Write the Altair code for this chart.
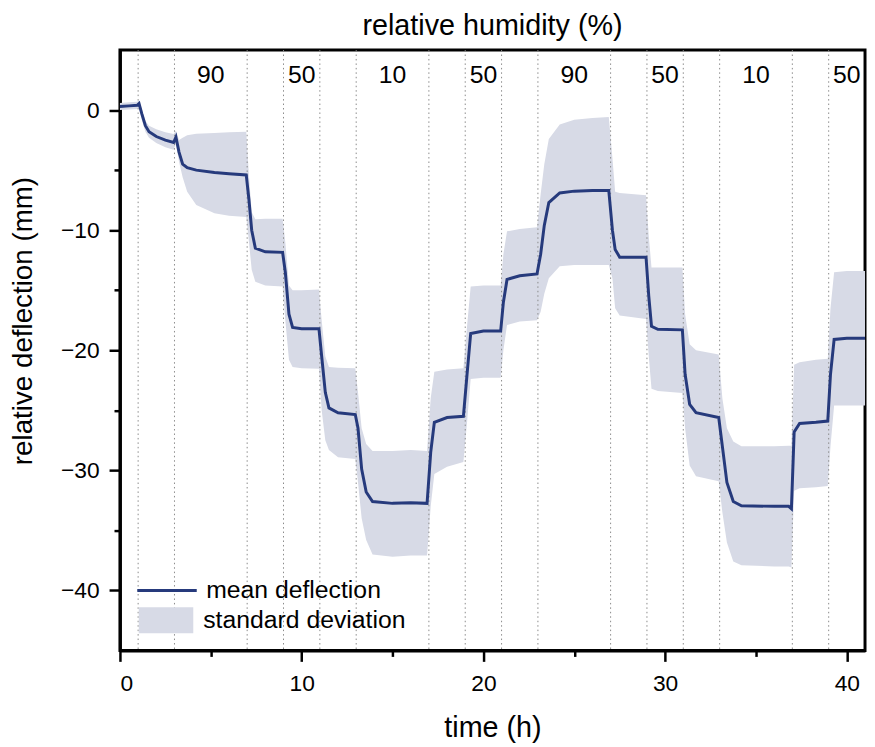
import altair as alt
import pandas as pd

# readings: time (h), mean deflection and the std band edges (mm)
time_h = [0.0, 0.5, 0.95, 1.05, 1.2, 1.4, 1.6, 2.0, 2.5, 2.95, 3.08, 3.25, 3.45, 3.7, 4.2, 5.2, 6.0, 6.95,
          7.1, 7.25, 7.45, 8.0, 8.95, 9.1, 9.3, 9.5, 10.0, 10.95, 11.1, 11.3, 11.5, 12.0, 12.95,
          13.1, 13.3, 13.55, 13.9, 15.0, 16.0, 16.9, 17.1, 17.3, 18.0, 18.9, 19.1, 19.3, 20.0, 20.95,
          21.1, 21.3, 22.0, 22.95, 23.15, 23.35, 23.6, 24.2, 25.0, 26.0, 26.9, 27.1, 27.25, 27.5, 28.95,
          29.1, 29.25, 29.6, 30.95, 31.1, 31.35, 31.7, 32.95, 33.15, 33.4, 33.75, 34.2, 36.0, 36.8, 36.95,
          37.1, 37.4, 38.3, 38.95, 39.1, 39.3, 40.0, 41.0]
mean_mm = [0.3, 0.35, 0.4, 0.55, -0.3, -1.3, -1.8, -2.2, -2.5, -2.7, -2.25, -3.5, -4.5, -4.8, -5.0, -5.2, -5.3, -5.4,
           -7.5, -10.0, -11.5, -11.8, -11.85, -13.5, -17.0, -18.1, -18.2, -18.2, -20.5, -23.5, -24.8, -25.2, -25.35,
           -26.5, -29.9, -31.8, -32.6, -32.75, -32.7, -32.75, -28.5, -26.0, -25.6, -25.5, -22.0, -18.6, -18.4, -18.4,
           -16.0, -14.1, -13.8, -13.65, -12.0, -9.6, -7.7, -6.9, -6.75, -6.7, -6.7, -10.0, -11.6, -12.25, -12.25,
           -15.5, -18.0, -18.25, -18.3, -22.0, -24.5, -25.2, -25.6, -28.0, -31.0, -32.6, -32.95, -33.0, -33.0, -33.2,
           -26.8, -26.1, -26.0, -25.9, -22.0, -19.1, -19.0, -19.0]
lower_mm = [0.0, 0.05, 0.1, 0.25, -0.8, -1.8, -2.3, -2.75, -3.1, -3.3, -2.8, -4.3, -5.6, -6.8, -7.9, -8.6, -8.8, -8.9,
            -11.0, -13.3, -14.3, -14.6, -14.7, -17.5, -20.8, -21.4, -21.5, -21.55, -25.0, -27.5, -28.3, -28.9, -29.05,
            -31.0, -34.0, -35.8, -37.0, -37.2, -37.1, -37.1, -33.0, -30.3, -29.7, -29.3, -26.0, -22.4, -22.3, -22.3,
            -20.0, -17.9, -17.6, -17.5, -16.8, -15.3, -14.0, -13.0, -12.9, -12.9, -12.9, -14.0, -16.5, -17.1, -17.4,
            -20.5, -23.2, -23.4, -23.55, -26.5, -29.6, -30.5, -30.9, -33.5, -36.0, -37.6, -37.9, -38.0, -38.0, -38.1,
            -31.7, -31.5, -31.4, -31.3, -28.0, -24.6, -24.6, -24.6]
upper_mm = [0.6, 0.65, 0.7, 0.8, 0.1, -0.9, -1.3, -1.6, -1.85, -2.0, -1.7, -2.5, -2.3, -2.1, -1.97, -1.9, -1.85, -1.8,
            -5.5, -8.5, -9.1, -9.05, -9.05, -11.0, -14.6, -15.0, -15.0, -14.95, -17.5, -20.5, -21.4, -21.45, -21.5,
            -23.5, -26.5, -27.8, -28.4, -28.4, -28.3, -28.4, -24.0, -21.8, -21.6, -21.5, -18.0, -14.7, -14.6, -14.6,
            -12.0, -10.1, -9.9, -9.75, -7.0, -4.5, -2.4, -1.2, -0.8, -0.65, -0.58, -4.0, -6.8, -6.9, -7.1,
            -10.5, -13.1, -13.1, -13.1, -17.0, -19.5, -20.0, -20.35, -24.0, -26.5, -27.6, -28.0, -28.0, -27.95, -27.95,
            -21.2, -21.0, -20.8, -20.7, -16.5, -13.5, -13.4, -13.4]

switch_times = [1, 3, 7, 9, 11, 13, 17, 19, 21, 23, 27, 29, 31, 33, 37, 39]
rh_centres = [5, 10, 15, 20, 25, 30, 35, 40]
rh_labels = ['90', '50', '10', '50', '90', '50', '10', '50']
top_title = ['relative humidity (%)']

x_major = [0, 10, 20, 30, 40]
x_minor = [5, 15, 25, 35]
y_major = [0, -10, -20, -30, -40]
y_minor = [-5, -15, -25, -35]

FONT = 'Liberation Sans'
NAVY = '#263a7c'
BAND = '#d7dae6'

df = pd.DataFrame({'t': time_h, 'mean': mean_mm, 'lo': lower_mm, 'hi': upper_mm})
df['line'] = 'mean deflection'
df['band'] = 'standard deviation'
switches = pd.DataFrame({'t': switch_times})
rh = pd.DataFrame({'t': rh_centres, 'rh': rh_labels})

xscale = alt.Scale(domain=[0, 41], nice=False, zero=False)
yscale = alt.Scale(domain=[-45, 5], nice=False, zero=False)

x_axis = alt.Axis(orient='bottom', values=x_major, tickSize=11, labelPadding=11,
                  titleX=376, titleY=87, titleBaseline='alphabetic')
y_axis = alt.Axis(orient='left', values=y_major, tickSize=11, labelPadding=10,
                  titleX=-89, titleY=273, titleBaseline='alphabetic', titleAngle=-90, titleFontSize=28)
x_minor_axis = alt.Axis(orient='bottom', values=x_minor, tickSize=6, labels=False, domain=False, title=None)
y_minor_axis = alt.Axis(orient='left', values=y_minor, tickSize=6, labels=False, domain=False, title=None)

band = alt.Chart(df).mark_area(opacity=1).encode(
    x=alt.X('t:Q', scale=xscale, axis=x_axis, title='time (h)'),
    y=alt.Y('lo:Q', scale=yscale, axis=y_axis, title='relative deflection (mm)'),
    y2='hi:Q',
    fill=alt.Fill('band:N', scale=alt.Scale(domain=['standard deviation'], range=[BAND]),
                  legend=alt.Legend(title=None, orient='none', legendX=19, legendY=548, padding=0,
                                    symbolType='M-1,-0.48H1V0.48H-1Z', symbolSize=3025,
                                    symbolStrokeWidth=0, symbolOpacity=1, labelOffset=10, labelLimit=0,
                                    labelFont=FONT, labelFontSize=25, labelColor='black'))
)

rules = alt.Chart(switches).mark_rule(color='#8a8a8a', strokeWidth=1, strokeDash=[1.5, 3]).encode(
    x=alt.X('t:Q', scale=xscale, axis=None)
)

line = alt.Chart(df).mark_line(strokeWidth=3).encode(
    x=alt.X('t:Q', scale=xscale, axis=x_minor_axis),
    y=alt.Y('mean:Q', scale=yscale, axis=y_minor_axis),
    stroke=alt.Stroke('line:N', scale=alt.Scale(domain=['mean deflection'], range=[NAVY]),
                      legend=alt.Legend(title=None, orient='none', legendX=16, legendY=514, padding=0,
                                        symbolType='stroke', symbolSize=3600, symbolStrokeWidth=3,
                                        labelOffset=8, labelLimit=0, labelFont=FONT, labelFontSize=25,
                                        labelColor='black'))
)

labels = alt.Chart(rh).mark_text(font=FONT, fontSize=25, baseline='middle', align='center', color='black').encode(
    x=alt.X('t:Q', scale=xscale, axis=None),
    y=alt.value(25),
    text='rh:N'
)

heading = alt.Chart(pd.DataFrame({'txt': top_title})).mark_text(
    font=FONT, fontSize=29, baseline='alphabetic', align='center', color='black'
).encode(
    x=alt.value(376), y=alt.value(-15), text='txt:N'
)

chart = alt.layer(band, rules, line, labels, heading).resolve_axis(
    x='independent', y='independent'
).properties(
    width=752, height=606,
    autosize=alt.AutoSizeParams(type='none'),
    padding={'left': 113, 'top': 39, 'right': 2, 'bottom': 94}
).configure_view(
    stroke='black', strokeWidth=3
).configure_axis(
    domainColor='black', domainWidth=3, tickColor='black', tickWidth=2.5, grid=False,
    labelFont=FONT, labelFontSize=23, labelColor='black',
    titleFont=FONT, titleFontSize=29, titleFontWeight='normal', titleColor='black'
)

chart.save("out.html", embed_options={"renderer": "svg", "actions": False})
